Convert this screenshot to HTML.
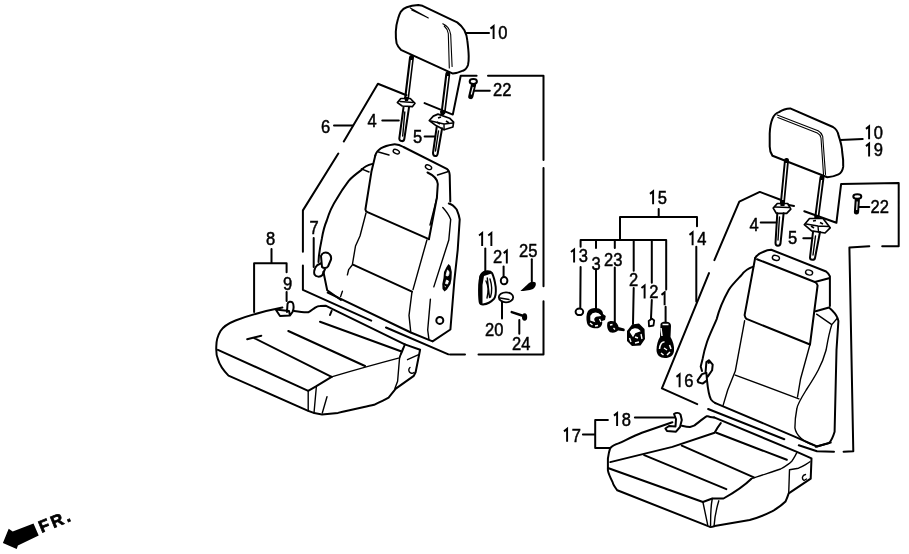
<!DOCTYPE html>
<html><head><meta charset="utf-8">
<style>
html,body{margin:0;padding:0;background:#fff;}
body{width:909px;height:554px;overflow:hidden;}
svg{display:block;will-change:transform;}
text{font-kerning:none;font-family:"Liberation Sans",sans-serif;font-size:18px;fill:#000;stroke:#000;stroke-width:0.5;}
.s{fill:none;stroke:#000;stroke-width:2;stroke-linecap:round;stroke-linejoin:round;}
.t{fill:none;stroke:#000;stroke-width:1.4;stroke-linecap:round;stroke-linejoin:round;}
.f{fill:#000;stroke:none;}
.w{fill:#fff;stroke:#000;stroke-width:1.7;stroke-linejoin:round;}
</style></head>
<body>
<svg width="909" height="554" viewBox="0 0 909 554">
<!-- ================= LEFT SEAT ================= -->
<g id="L">
<!-- headrest -->
<path class="s" d="M400.9,11.6 C402.5,9.5 404.5,8 406.7,7.2 C410,6 414,5.3 418.2,5.1 L422.5,5.8 L457.2,22.4 C460,24.5 462.5,27 464.4,30.3 C466,33.5 467,37 467.3,40.4 C468,46 468.6,51 468.7,56.3 C468.8,60 468.5,63 468,65 C467,68 465,70 463,70.7 C460,72 456,73.3 452.9,73.6 L400.9,49.8 C399,48 397.5,46 396.6,43.3 C395.9,40 395.7,36 395.8,31.8 C396,26 397,22 398,18.8 C398.8,16 399.8,13.5 400.9,11.6 Z"/>
<path class="t" d="M410.3,7.9 L428.3,18 M411.7,10.1 L425.4,16.6 M442.8,23.8 C445,25 446.5,26 447.8,27.4 C449.5,29.5 450.3,32 450.7,34.7 L452.1,66.4 M444.2,26 C446.5,28 447.8,30.5 448.3,33.5 L449.3,67.9" style="stroke-width:1.1"/>
<path class="s" d="M466.3,32.9 L489,32.9"/>
<g transform="translate(489,38.8) scale(0.92,1)"><text><tspan style="fill:none;stroke:none">1</tspan>0</text><path d="M5.00,0.2 L5.00,-12.7 L1.60,-10.2" style="fill:none;stroke:#000;stroke-width:2.1;stroke-linejoin:miter;stroke-linecap:butt"/></g>
<!-- stalks -->
<path d="M411.5,57.5 L406.5,99 M447.8,74 L443.2,112" style="fill:none;stroke:#000;stroke-width:5;stroke-linecap:round"/>
<path d="M411.5,60 L407,97 M447.8,76 L443.6,110" style="fill:none;stroke:#fff;stroke-width:1.3"/>
<!-- nut 4 -->
<path class="w" d="M397.4,102.6 L400.8,98.5 L410.3,98.5 L415,103.3 L412.3,106.7 L402.2,106 Z"/>
<path d="M400,101.5 L413,102.5" class="t"/>
<path class="f" d="M404,97 L409,97.5 L408,101 L405,101 Z"/>
<path class="s" d="M403.5,107.3 L399.3,138.5 C399.5,141.8 403.8,142 404.3,139 L409,107.3"/>
<path class="t" d="M404.8,112 L402.7,136"/>
<!-- nut 5 -->
<path class="w" d="M429.3,120.5 L433.3,116.1 L438,114.1 L449.6,118.2 L453.6,122.2 L452.9,127 L444.1,129.7 L436,125.6 Z"/>
<path class="t" d="M431,121 L444,124 L453,123 M444,124 L444.1,129.7"/>
<path d="M438,118 L441,117 M446,121 L449,123 M437,122 L440,124" style="fill:none;stroke:#000;stroke-width:1.6"/>
<path class="f" d="M440,111 L445,111.5 L444,115 L440.5,115 Z"/>
<path class="s" d="M436.7,127 L433,153 C433,156.8 437.3,157 437.6,154 L442.1,128.3"/>
<path class="t" d="M438.5,131 L435.5,151"/>
<!-- labels 4,5,6 -->
<text transform="translate(367.5,127) scale(0.92,1)">4</text>
<path class="s" d="M382.3,120.5 L398.8,120.5"/>
<text transform="translate(413,143) scale(0.92,1)">5</text>
<path class="s" d="M424.6,136.6 L435.2,136.6"/>
<text transform="translate(321,133) scale(0.92,1)">6</text>
<path class="s" d="M334,125.5 L352.6,125.5"/>
<!-- bolt 22 -->
<path d="M473.5,85 L470.8,96.5" style="fill:none;stroke:#000;stroke-width:5.2;stroke-linecap:round"/>
<path d="M473.2,87 L471.3,94.5" style="fill:none;stroke:#fff;stroke-width:1.1"/>
<ellipse class="w" cx="473.3" cy="81.5" rx="3.6" ry="2.4" style="stroke-width:2"/>
<path class="s" d="M474,90.8 L489.8,90.8"/>
<text transform="translate(493,96.3) scale(0.92,1)">22</text>
<!-- bracket 6 / 22 enclosure -->
<path class="s" d="M406.5,95.2 L377.9,83.8 L343.8,141.4 M338.3,153.5 L302.9,210.4 L302.9,251.8 M302.9,265.6 L302.9,289.9 L371.2,320.6 M386,327.5 L448.4,354.3 M450,354.6 L465,354.6 M478.5,354.6 L543.5,354.6 L543.5,301.2 M543.5,286.3 L543.5,168 M543.5,160 L543.5,75.8 L488,75.8 M476.6,75.8 L460.7,75.8 L452.8,114.6 L424.6,103.1"/>
<!-- backrest top panel -->
<path class="s" d="M375.3,155.5 C377,149 385,145.5 393.2,144.4 C397,144 401,145.5 403.5,147 L446.8,168.8 C448.5,170 449.5,172 449.7,175 L450.3,201.4"/>
<path class="s" d="M375.3,155.5 L371.4,171.8 L365.4,209.5 C365.5,211 366,211.5 367.5,212.2 L428.9,239.2"/>
<path class="s" d="M427.5,172.5 C433,175 437.5,179 437.8,184 L436.9,197.6 L428.9,239.2"/>
<path class="t" d="M378.5,152 L389,155 M437.5,175 L448.5,171.5"/>
<ellipse class="t" cx="396.3" cy="151.6" rx="3.3" ry="2" transform="rotate(25 396.3 151.6)"/><ellipse class="t" cx="428.5" cy="167.2" rx="3.3" ry="2" transform="rotate(25 428.5 167.2)"/>
<!-- left bolster -->
<path class="s" d="M372.5,163.9 C368,165 364,167 361.6,169.9 C356,174 352,177 348.7,180.8 C344,187 340,193 336.8,198.7 C332,206 329,213 326.8,220.5 C324,227 322.8,233 321.9,238.4 C320.5,245 319.5,251 318.9,256.2 L318.5,262"/>
<path class="t" d="M361.4,168.8 L369,172"/>
<!-- part 7 clip -->
<path class="s" d="M321,256 C322,253 325,252 328,253 C330.5,254.5 331.5,257 331,259.5 L328,266.5 C326.5,268.5 323.5,268.5 322,267 Z M317.5,265 C315,267 313.5,271 314.5,274.5 C316,277 320,277.5 322.5,275 L325,269 M317.5,265 L321.5,263"/>
<path class="s" d="M323.4,271.8 L327.2,290.2 L341,300"/>
<text transform="translate(309.5,234.4) scale(0.92,1)">7</text>
<path class="s" d="M313.7,238 L313.7,267"/>
<!-- backrest middle / lower sections -->
<path class="t" d="M366,213 L360,236 L355.5,246 L352.3,265 C350.5,267 349.2,269 348.7,269.5 L347.4,274.9 M342.4,291.2 L340.6,296.6"/>
<path class="s" d="M353.5,264.8 L412,291.6"/>
<path class="t" d="M412,291.6 L409,315.4 L410.8,332.5"/>
<path class="t" d="M436.9,197.6 L430,225 M426.9,240 L413,289.6"/>
<path class="s" d="M327.7,292.6 L410.8,332.5 L432.6,341.4 L450.4,329.5 L454.4,280 L457.7,250 L459.7,219.4 C459,214 457,210.5 456.7,209.5 C454,206 451,204 448.8,203.5"/>
<path class="t" d="M442.8,207.5 C446,211 449,215 450.7,219.4 L448.8,240 L433.8,286.9 M430.4,299.1 L427.7,330 L428.9,339.2"/>
<!-- lever on right of backrest -->
<path class="f" d="M448.5,264 L450.5,266 L451.8,272 L451.5,279 L450.5,284 L447,289.5 L444.5,291.5 L442.5,289 L442.3,284 L443.5,278 L444,272 L446.5,267 Z"/><path d="M447.5,270 C449.5,271 449.5,274 448,276 L446,275.5 Z M446.5,280 L448.5,281 L447.5,284 L445.5,283.5 Z M444.5,286 L446,287" style="fill:#fff;stroke:#fff;stroke-width:0.8"/>
<circle class="s" cx="439.8" cy="320.4" r="3.5"/>
<!-- label 8/9 bracket -->
<text transform="translate(266,245.3) scale(0.92,1)">8</text>
<path class="s" d="M271.5,248.9 L271.5,263.3 M254.1,312 L254.1,263.3 L286.6,263.3 L286.6,272.3"/>
<text transform="translate(283,290.4) scale(0.92,1)">9</text>
<path class="s" d="M286.6,292 L286.6,301"/>
<!-- clip 9 -->
<path class="s" d="M287,312 L287.5,304 C288,301.5 291,301 292.5,302.5 C294,304.5 294,309 292.5,312 L290,315.5 M275.7,309.5 L289,311 L290,315.5 L280,316 Z"/>
<!-- seat cushion -->
<path class="s" d="M282.4,307.6 C270,310 254,313.5 235.5,320.5 C228,323.5 223,327 220.5,331 C217.5,336 216.3,342 216.3,346.3 C216,352 216.5,356 217.9,359 C219.5,365 223,370 228.5,375.6 L308.2,410.8 C312,412.5 316,414 322,414.5 L338,412.9 C350,410 362,407.5 374.1,404.8 C380,402 386,399 388.6,397.6 L395.8,388.6 L413.8,375.9 L415.6,372.3 L420.1,349.8 L404.8,344.4"/>
<path class="s" d="M294.1,311.1 C300,312 305,312.5 308.2,312.3 C311,311 313,309 315.2,307.6 C317,306.5 318.5,306 320,306 L325.6,305.7 L331.6,308.7 L404.8,344.4"/>
<path class="s" d="M217.9,349.8 L308.2,390.8 L316.4,386.2 L331.6,376.8"/><path class="t" d="M331.6,376.8 C355,370 380,363 399.4,357.9 C402,353 403.5,349 404.8,345.3 M407.5,359.7 L419.2,354.3"/>
<path class="t" d="M308.2,390.8 L308.2,410.8 M316.4,386.2 L314,413 M327,396.7 L322.3,413 M404.8,344.4 C401,352 399.5,356 399.4,359.7 L397.6,381.3 L394.9,388.6"/>
<path class="s" d="M254.2,338.1 L331.6,376.8 M247.2,339.2 L261.3,335.7 M288.3,331 L365,366 M320,321.7 L400.9,351.3 M331.6,311 L330,315"/>
<path class="t" d="M412,370.5 m-2,-3 a3,3 0 1,0 4,5"/>
</g>

<!-- ================= MIDDLE PARTS ================= -->
<g id="M">
<g transform="translate(477,245.7) scale(0.92,1)"><text><tspan style="fill:none;stroke:none">1</tspan><tspan style="fill:none;stroke:none">1</tspan></text><path d="M5.60,0.2 L5.60,-12.7 L2.20,-10.2 M15.62,0.2 L15.62,-12.7 L12.22,-10.2" style="fill:none;stroke:#000;stroke-width:2.1;stroke-linejoin:miter;stroke-linecap:butt"/></g>
<path class="s" d="M485.3,248.4 L485.3,272"/>
<path class="s" d="M480.5,276 C482,273 484,271.5 486.3,271.3 C489,271 491,271.5 492,273 C494,277 495,282 495.7,287 C496.2,293 495.5,297 493.8,299 C491,302 487,304 483,304.6 C481,304.5 480,303.5 479.7,302 C479,297 479,290 479.2,285 C479.5,281 480,278 480.5,276 Z" style="stroke-width:2"/>
<path class="f" d="M479,279 C479.5,274 482,271.5 486,271 C489,271 491,272 491.5,273.5 L484,276 L482.5,285 L482.5,303.5 C481,304 480,303.5 479.5,301.5 C478.8,295 478.7,286 479,279 Z"/>
<path class="t" d="M487.3,278 L489.5,297.5 M486,281 C488,285 488.5,292 487,298 M490,279 C492,285 492,292 490.5,297"/>
<g transform="translate(493,263.3) scale(0.92,1)"><text>2<tspan style="fill:none;stroke:none">1</tspan></text><path d="M15.02,0.2 L15.02,-12.7 L11.62,-10.2" style="fill:none;stroke:#000;stroke-width:2.1;stroke-linejoin:miter;stroke-linecap:butt"/></g>
<path class="s" d="M503.6,266.6 L503.6,276.4"/>
<ellipse class="s" cx="504.1" cy="280.7" rx="3.3" ry="3.6"/>
<text transform="translate(519,256.5) scale(0.92,1)">25</text>
<path class="s" d="M531.8,259.3 L531.8,281.3"/>
<path class="f" d="M520.4,291 L529,283 C531,281.5 534,281.2 535.5,282.5 C536.5,284 535.5,287.5 533,289 C529,290.5 524,291 520.4,291 Z"/>
<ellipse class="w" cx="506" cy="297.3" rx="7.2" ry="5" style="stroke-width:1.8"/>
<path class="t" d="M500,298 L509,299.5"/>
<path class="s" d="M502,301.8 L502,318.6"/>
<text transform="translate(485,336.4) scale(0.92,1)">20</text>
<path class="s" d="M511.7,312.1 L522,315.5" style="stroke-width:2.4"/>
<ellipse class="f" cx="524.6" cy="317" rx="2.6" ry="3.8"/>
<path class="s" d="M519.3,320 L519.3,333.7"/>
<text transform="translate(512,350) scale(0.92,1)">24</text>
</g>

<g id="M2">
<g transform="translate(648.5,204) scale(0.92,1)"><text><tspan style="fill:none;stroke:none">1</tspan>5</text><path d="M5.00,0.2 L5.00,-12.7 L1.60,-10.2" style="fill:none;stroke:#000;stroke-width:2.1;stroke-linejoin:miter;stroke-linecap:butt"/></g>
<path class="s" d="M658.7,209.1 L658.7,217 M620,240 L620,217 L697,217 L697,226.2"/>
<g transform="translate(688,245) scale(0.92,1)"><text><tspan style="fill:none;stroke:none">1</tspan>4</text><path d="M5.00,0.2 L5.00,-12.7 L1.60,-10.2" style="fill:none;stroke:#000;stroke-width:2.1;stroke-linejoin:miter;stroke-linecap:butt"/></g>
<path class="s" d="M696.3,246.8 L696.3,301.6"/>
<path class="s" d="M580.6,240 L666.2,240 M580.6,240 L580.6,246.8 M596,240 L596,248 M614.8,240 L614.8,248 M633.7,240 L633.7,270.8 M651.8,240 L651.8,282.8 M666.2,240 L666.2,289.6"/>
<g transform="translate(569.5,262.2) scale(0.92,1)"><text><tspan style="fill:none;stroke:none">1</tspan>3</text><path d="M5.00,0.2 L5.00,-12.7 L1.60,-10.2" style="fill:none;stroke:#000;stroke-width:2.1;stroke-linejoin:miter;stroke-linecap:butt"/></g>
<text transform="translate(591.5,269.5) scale(0.92,1)">3</text>
<text transform="translate(604,265.6) scale(0.92,1)">23</text>
<text transform="translate(629,286.2) scale(0.92,1)">2</text>
<g transform="translate(640,298.2) scale(0.92,1)"><text><tspan style="fill:none;stroke:none">1</tspan>2</text><path d="M5.00,0.2 L5.00,-12.7 L1.60,-10.2" style="fill:none;stroke:#000;stroke-width:2.1;stroke-linejoin:miter;stroke-linecap:butt"/></g>
<g transform="translate(660,305) scale(0.92,1)"><text><tspan style="fill:none;stroke:none">1</tspan></text><path d="M5.00,0.2 L5.00,-12.7 L1.60,-10.2" style="fill:none;stroke:#000;stroke-width:2.1;stroke-linejoin:miter;stroke-linecap:butt"/></g>
<path class="s" d="M580.6,267 L580.3,307.5 M596,269 L596,308.5 M614.8,267.4 L614.8,322 M633.7,288 L633,324 M651.8,300 L651,318.5 M665.6,306.8 L665.6,322"/>
<ellipse class="s" cx="579.4" cy="311.8" rx="3.8" ry="3.3" style="stroke-width:2"/>
<path class="f" d="M588,311 C590,308 595,307.3 599,308.5 C602,310 603,312 603,314 L605.8,316 L605,320 L602,321 C603,324 601,327.5 598,328.2 C593,329 588,327 587,323 C586,319 586.2,314 588,311 Z"/>
<path d="M591,316 C593,312.5 598,312.5 600,315.5 L596,316 C594,317 593,319 594,321 L591,320 Z M590,323 L592.5,325 M595,326 L598,325.5 M599.5,319 L601,322" style="fill:#fff;stroke:#fff;stroke-width:1.4"/>
<path class="f" d="M607.5,322.5 C609,320.5 613,320.5 615.5,322 C617.5,323.5 618.5,326 618.5,327 L624,328.5 C625,329 625,331 624,331.3 L618,330.5 C617,332 614,333 611,332.5 C607.5,331.5 606.5,326 607.5,322.5 Z"/>
<path d="M610,325 L612.5,324.5 M613.5,328 L615,329.5" style="fill:none;stroke:#fff;stroke-width:1.3"/>
<path class="f" d="M627,331 L632,324.5 L639,323.6 L644.5,329 L645,339 L640.5,345.5 L632,346 L627,341 Z"/>
<path d="M630.5,332 C632,328.5 637,328 639.5,331 L635,332.5 L633,336 Z M629.5,338 L631,342 M635,343 L639,342 M641,334 L642,339 M635,337 L638,338" style="fill:#fff;stroke:#fff;stroke-width:1.4"/>
<path class="s" d="M648.7,321 L652,318.6 L654.2,320.5 L653.5,325.5 L649,326.3 Z" style="stroke-width:1.8"/>
<path class="f" d="M660.5,324 C661,322 664,321.5 667,321.8 C670,322.3 671,324 671,326 L670.5,337 C673,341 674.5,346 674,351 C673.5,355.5 670,358 665,358 C660,358 656.5,355 656.5,350 C656.5,345 658,340 660,337 Z"/>
<path d="M662.5,324.5 L668.5,324.5 M661,328 L662,336 M659.5,349 C660,344 662,341.5 664.5,342 M661,353 L663.5,355 M667,355 L670,352 M669.5,345 L671,349 M664,348 L667,350" style="fill:none;stroke:#fff;stroke-width:1.5"/>
</g>

<!-- ================= RIGHT SEAT ================= -->
<g id="R">
<path class="s" d="M772.5,118.6 C774,115 776,113 779,112.1 C782,110 786,108.5 790.2,108.4 L833,127 C836,129 838,132 838.5,135.3 C840.5,141 842,147 842.2,152 C843,157 843.5,162 843.2,166.9 C842.5,171 840.5,173.5 838.5,174.4 C835,176 831,177 827.4,177.2 L772.5,155.8 C770.5,153 769.7,150 769.7,146.5 L769.7,133.5 C770,127 771,122 772.5,118.6 Z"/>
<path class="t" d="M777.2,114.9 L818.1,130.7 C820.5,132 822,134 822.7,136.3 L825.5,174.4 M777.8,117.5 L817.3,133 C819.3,134 820.6,136 821,138 L823.5,174.5" style="stroke-width:1.1"/>
<path class="s" d="M840.4,140 L862.7,139"/>
<g transform="translate(864.5,139) scale(0.92,1)"><text><tspan style="fill:none;stroke:none">1</tspan>0</text><path d="M5.00,0.2 L5.00,-12.7 L1.60,-10.2" style="fill:none;stroke:#000;stroke-width:2.1;stroke-linejoin:miter;stroke-linecap:butt"/></g>
<g transform="translate(864.5,156.3) scale(0.92,1)"><text><tspan style="fill:none;stroke:none">1</tspan>9</text><path d="M5.00,0.2 L5.00,-12.7 L1.60,-10.2" style="fill:none;stroke:#000;stroke-width:2.1;stroke-linejoin:miter;stroke-linecap:butt"/></g>
<path d="M786.5,160.5 L782.5,202 M822,177.5 L816.8,217" style="fill:none;stroke:#000;stroke-width:5;stroke-linecap:round"/>
<path d="M786.3,163 L782.8,200 M821.6,180 L817.2,215" style="fill:none;stroke:#fff;stroke-width:1.3"/>
<path class="w" d="M773.2,208.1 L777.3,203.5 L787.7,203.5 L790.8,209.1 L786.7,213.3 L776.3,213.3 Z"/>
<path class="t" d="M775,207 L789,207.5"/>
<path class="f" d="M780,202 L785,202.5 L784.5,206 L780.5,206 Z"/>
<path class="s" d="M777.3,213.3 L775.5,243 C775.5,246.5 780,246.5 780.5,243.5 L783.6,213.3"/>
<path class="t" d="M779.5,217 L778,240"/>
<path class="w" d="M804.3,224.7 L809.5,218.5 L823,218.5 L830.2,227.8 L825,233 L811.6,230.9 Z"/>
<path class="t" d="M806,224 L818,226 L829,226.5 M818,226 L818.5,232"/>
<path d="M813,221 L816,220.5 M820,222.5 L823,224 M811,226 L814,228" style="fill:none;stroke:#000;stroke-width:1.6"/>
<path class="f" d="M814.5,215 L819.5,215.5 L819,219 L815,219 Z"/>
<path class="s" d="M813,232 L810,257.5 C810,260.5 814.5,260.5 815,258 L820,232"/>
<path class="t" d="M815.5,236 L813,255"/>
<text transform="translate(749.5,231.4) scale(0.92,1)">4</text>
<path class="s" d="M760.7,222.6 L776.3,222.6"/>
<text transform="translate(788,244.4) scale(0.92,1)">5</text>
<path class="s" d="M803.3,238.2 L812.3,238.2"/>
<path d="M857.3,200 L856.5,212" style="fill:none;stroke:#000;stroke-width:5.2;stroke-linecap:round"/>
<path d="M857.2,201.5 L856.7,210" style="fill:none;stroke:#fff;stroke-width:1.1"/>
<ellipse class="w" cx="857.3" cy="196.5" rx="4" ry="2.3" style="stroke-width:2"/>
<path class="s" d="M859,207.1 L869.3,207.1"/>
<text transform="translate(870.5,212.6) scale(0.92,1)">22</text>
<!-- bracket enclosure -->
<path class="s" d="M780.5,199.8 L759.8,191.9 L739.3,201.6 L714.4,260.1 M709,273.1 L661.9,388.4 L697.2,404.1 M708.1,409 L784.3,439.2 M798.8,445.3 L817,451.3 L834,451.8 M843.6,451.8 L853.3,451.3 L849.4,247.5 L869.3,246.3 M882.2,246.3 L898.7,246.3 L898.7,182.9 L841.1,184.1 L836.4,222.8 L804.3,211.2 M788.8,205 L794,206"/>

<!-- backrest top panel -->
<path class="s" d="M755.1,258 C757,255 760,253 763,252 C766,250.5 769,249.7 771.2,249.7 L826.1,271.5 C828,273 829.5,275 829.9,276.3 L829.9,306"/>
<path class="s" d="M757,259.2 L814.8,282 L829,278.2 M755.1,258.3 L744.6,315.1 C745,317 745.5,318 746.5,318.9 L810,344.5 M814.8,282 C816.5,283 817.4,284 817.6,285.5 L810,344.5"/>
<ellipse class="t" cx="775.9" cy="257.9" rx="3.6" ry="2.4" transform="rotate(15 775.9 257.9)"/>
<ellipse class="t" cx="809.1" cy="272.5" rx="3.6" ry="2.4" transform="rotate(15 809.1 272.5)"/>
<!-- right bolster -->
<path class="s" d="M815.7,311.3 L829,307.5 C833,311 836,314 837.5,318 L838.4,321 L836.5,350 L834.6,431.7 C833,437 831,441 829,443 L815.7,446.8"/>
<path class="t" d="M831.8,324.6 C829,333 827.5,342 826.1,350 C822,365 816,375 806.2,390 C800,400 797,405 796.8,409 C795,418 794.9,424 794.9,427.9 C796,435 803,442 813.8,445 M816.6,314.2 L831.8,324.6 L837.5,318 M810,344.5 L800.6,378.7 L797.5,397"/>
<!-- left bolster -->
<path class="s" d="M753.3,266.6 C749,268 745,270 741.4,275.2 C735,282 731,286 728.7,290 C722,302 719,310 716.7,319.1 C712,330 709,336 707,342 C705,348 703.5,354 702.6,358.9 L700.7,366.5 L702,371 M707,380.4 C708,390 709.5,397 711,399.5 C712.5,401.5 714,402.5 715.4,403.1"/>
<path class="t" d="M744.6,320.8 L735.3,371.1 L727.7,390 L723.1,405.4 M735.3,375.1 L798.9,398.9"/>
<path class="s" d="M715.4,403.1 L795.2,436.8 L817,446.5 L830.7,442.6"/>
<g transform="translate(675,387) scale(0.92,1)"><text><tspan style="fill:none;stroke:none">1</tspan>6</text><path d="M5.00,0.2 L5.00,-12.7 L1.60,-10.2" style="fill:none;stroke:#000;stroke-width:2.1;stroke-linejoin:miter;stroke-linecap:butt"/></g>
<path class="s" d="M706.4,362.1 L708.9,360.2 L712.7,364.6 L712.1,370.3 L707.7,376.6 M697.6,380.4 L702,374.1 L706.4,372.8 L707,380.4 L702.6,383.6 L698.2,382.3 Z M706.4,362.1 L705.5,372.8"/><path class="f" d="M707,361 L709,360 L711,363 L708,364 Z"/>
<!-- seat cushion -->
<g transform="translate(562.5,441.6) scale(0.92,1)"><text><tspan style="fill:none;stroke:none">1</tspan>7</text><path d="M5.00,0.2 L5.00,-12.7 L1.60,-10.2" style="fill:none;stroke:#000;stroke-width:2.1;stroke-linejoin:miter;stroke-linecap:butt"/></g>
<path class="s" d="M582.9,434.6 L595.2,434.6 M607.9,420 L595.2,420 L595.2,448 L610.2,448.1"/>
<g transform="translate(612.5,425.8) scale(0.92,1)"><text><tspan style="fill:none;stroke:none">1</tspan>8</text><path d="M5.00,0.2 L5.00,-12.7 L1.60,-10.2" style="fill:none;stroke:#000;stroke-width:2.1;stroke-linejoin:miter;stroke-linecap:butt"/></g>
<path class="s" d="M634.9,417.6 L674.7,417.6"/>
<path class="s" d="M674,414 C676,412.5 679,412.5 680.5,414.5 L681.8,420 L680,427 L676,431.7 L667,431 L665.4,428.5 L669,426 L675.5,426.5 L676,419 Z"/>
<path class="s" d="M610.2,448.1 C612,446 615,444.5 618.5,443.4 C628,439 635,435.5 641.9,432.8 L672.4,422.3"/>
<path class="s" d="M681.8,425.8 C685,426.5 688,427 690,427 C692,426.5 693.5,426 694.6,425.4 C699,422 703,418.5 706.9,416.2 C708,416 709,416.3 710,417 L714.1,417.4"/>
<path class="s" d="M714.1,417.4 L796.9,451.9 L811.5,458.4 L810.7,478.7 L788.7,493.4 C787.5,497 786.5,499.5 785.5,501.5 C781,506 777,508.5 772.5,511.2 C765,515 757,518 749.7,520 L714.6,526 C712,527 710,527.8 709.4,526.6 L617.3,490.3 C614,486 613,484 612.6,482.1 C610,477 608.5,474 607.9,470.4 L607.9,458.6 C608.5,454 609.5,450 610.2,448.1"/>
<path class="s" d="M610.2,462.1 L672.4,446.9 L714.6,432.8 C716,430 718.5,426 720.8,423.1"/>
<path class="s" d="M607.9,468 L702.9,502 L712.3,498.5 L723.5,498.5 C735,492 745,485 751.4,478.7"/><path class="t" d="M751.4,478.7 C762,475 772,472 780.6,469 C786,466 789.5,463.5 792,460.9 C794,458 795.5,455 796.9,452.7"/>
<path class="t" d="M702.9,502 L707.6,524.3 M712.3,498.5 C711,505 710.5,515 710.6,526 M718.8,500.8 C716,510 714.5,518 714,526.6 M789.5,469.8 L788.7,493.4 M789.5,469.8 L798.5,468.2 C803,466 807,464 809.9,461.7 M805.5,474.5 C802,475 801.5,479 804,480.5 L806.5,479"/>
<path class="s" d="M644.2,455.1 L726.3,489.1 M681.8,445.7 L753.9,477.4 M716.4,432.8 L786.8,459.8"/>


</g>

<!-- FR arrow -->
<path class="f" d="M2.9,543.1 L8.7,528.7 L12.7,531.6 L33.5,523.5 L38.7,535.6 L17.9,545.4 L16.7,548.9 Z"/>
<text transform="translate(41.5,533) rotate(-22)" style="font-weight:bold;font-size:17px;letter-spacing:2.6px;stroke-width:0.7">FR.</text>
</svg>
</body></html>
